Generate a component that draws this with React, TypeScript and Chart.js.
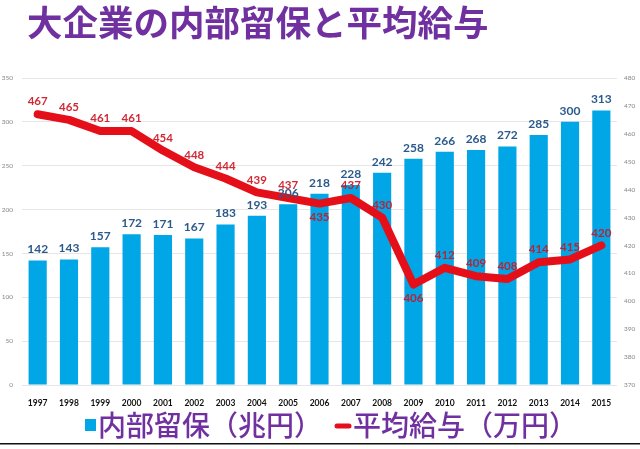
import { useEffect, useRef } from 'react'
import { Chart, registerables } from 'chart.js'
Chart.register(...registerables)

const titleText = '大企業の内部留保と平均給与'
const years = ['1997', '1998', '1999', '2000', '2001', '2002', '2003', '2004', '2005', '2006', '2007', '2008', '2009', '2010', '2011', '2012', '2013', '2014', '2015']
// 内部留保 (兆円)
const reserves = [142, 143, 157, 172, 171, 167, 183, 193, 206, 218, 228, 242, 258, 266, 268, 272, 285, 300, 313]
// 平均給与 (万円)
const salary = [467, 465, 461, 461, 454, 448, 444, 439, 437, 435, 437, 430, 406, 412, 409, 408, 414, 415, 420]
const salaryLabelsBelow = ['2006', '2009']
const reserveAxis = { min: 0, max: 350, step: 50 }
const salaryAxis = { min: 370, max: 480, step: 10 }

const BLUE = '#00a6e6'
const RED = '#e50f1a'
const PURPLE = '#7030a0'
const CJK = '"Noto Sans CJK JP", "Noto Sans", sans-serif'
const NUM = 'Lato, "Noto Sans", sans-serif'

// numbers above bars and points
const valueLabels = {
  id: 'valueLabels',
  afterDatasetsDraw(chart: any) {
    const ctx = chart.ctx
    ctx.save()
    ctx.textAlign = 'center'
    ctx.textBaseline = 'middle'
    ctx.font = `bold 12px ${NUM}`
    ctx.fillStyle = '#2a5a8c'
    chart.getDatasetMeta(0).data.forEach((el: any, i: number) => {
      ctx.fillText(String(reserves[i]), el.x, el.y - 11)
    })
    ctx.font = `bold 11.5px ${NUM}`
    ctx.fillStyle = 'rgba(204, 22, 36, 0.92)'
    chart.getDatasetMeta(1).data.forEach((el: any, i: number) => {
      const below = salaryLabelsBelow.includes(years[i])
      ctx.fillText(String(salary[i]), el.x, below ? el.y + 14 : el.y - 12.5)
    })
    ctx.restore()
  }
}

// title, legend row and the thin rule at the bottom
const decor = {
  id: 'decor',
  afterDraw(chart: any) {
    const { ctx, width } = chart
    ctx.save()
    ctx.fillStyle = PURPLE
    ctx.textBaseline = 'middle'
    ctx.textAlign = 'left'
    ctx.font = `bold 35.5px ${CJK}`
    ctx.fillText(titleText, 27, 23)

    ctx.font = `500 28px ${CJK}`
    const ds = chart.data.datasets
    const w1 = ctx.measureText(ds[0].label).width
    const w2 = ctx.measureText(ds[1].label).width
    const gap = 13
    const total = 11 + 2 + w1 + gap + 16 + 2 + w2
    let x = (width - total) / 2 + 11
    const y = 425
    ctx.fillStyle = BLUE
    ctx.fillRect(x, y - 6, 11, 12)
    x += 13
    ctx.fillStyle = PURPLE
    ctx.fillText(ds[0].label, x, y)
    x += w1 + gap
    ctx.strokeStyle = RED
    ctx.lineWidth = 5
    ctx.lineCap = 'round'
    ctx.beginPath()
    ctx.moveTo(x + 2, y + 1)
    ctx.lineTo(x + 14, y + 1)
    ctx.stroke()
    x += 18
    ctx.fillText(ds[1].label, x, y)

    ctx.fillStyle = '#111'
    ctx.fillRect(0, 443, width, 1.5)
    ctx.restore()
  }
}

export default function App() {
  const ref = useRef<HTMLCanvasElement | null>(null)
  useEffect(() => {
    document.body.style.margin = '0'
    if (!ref.current) return
    const chart = new Chart(ref.current, {
      type: 'bar',
      data: {
        labels: years,
        datasets: [
          {
            type: 'bar',
            label: '内部留保（兆円）',
            data: reserves,
            backgroundColor: BLUE,
            yAxisID: 'y',
            barPercentage: 0.58,
            categoryPercentage: 1,
            order: 2
          },
          {
            type: 'line',
            label: '平均給与（万円）',
            data: salary,
            borderColor: RED,
            backgroundColor: RED,
            borderWidth: 8,
            borderCapStyle: 'round',
            borderJoinStyle: 'round',
            pointRadius: 0,
            tension: 0,
            yAxisID: 'y1',
            order: 1
          }
        ] as any
      },
      options: {
        responsive: true,
        maintainAspectRatio: false,
        animation: false,
        layout: { padding: { top: 78, bottom: 34, left: 0, right: 0 } },
        plugins: {
          legend: { display: false },
          title: { display: false },
          tooltip: { enabled: false }
        },
        scales: {
          x: {
            grid: { display: false, drawTicks: false },
            border: { display: false },
            ticks: { color: '#111', font: { family: NUM, size: 8.5, weight: 'bold' }, padding: 13, maxRotation: 0, autoSkip: false },
            afterFit: (s: any) => { s.height = 30 }
          },
          y: {
            position: 'left',
            min: reserveAxis.min,
            max: reserveAxis.max,
            grid: { color: '#e6e6e6', lineWidth: 1, drawTicks: false },
            border: { display: false },
            ticks: { stepSize: reserveAxis.step, color: '#888', font: { family: NUM, size: 6.5 }, padding: 9 },
            afterFit: (s: any) => { s.width = 22 }
          },
          y1: {
            position: 'right',
            min: salaryAxis.min,
            max: salaryAxis.max,
            grid: { display: false, drawTicks: false },
            border: { display: false },
            ticks: { stepSize: salaryAxis.step, color: '#888', font: { family: NUM, size: 6.5 }, padding: 7 },
            afterFit: (s: any) => { s.width = 23 }
          }
        }
      } as any,
      plugins: [valueLabels, decor]
    })
    return () => chart.destroy()
  }, [])
  return (
    <div style={{ width: 640, height: 449, position: 'relative', background: '#fff' }}>
      <canvas ref={ref} />
    </div>
  )
}
